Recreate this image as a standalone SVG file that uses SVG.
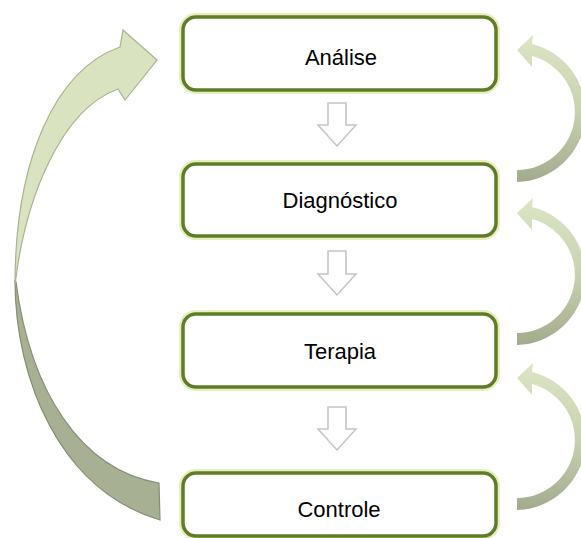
<svg xmlns="http://www.w3.org/2000/svg" width="581" height="538" viewBox="0 0 581 538">
  <defs>
    <linearGradient id="rg" x1="0" y1="0" x2="0" y2="1">
      <stop offset="0" stop-color="#dce6c3"/>
      <stop offset="0.5" stop-color="#c9d2b2"/>
      <stop offset="1" stop-color="#a2ab8c"/>
    </linearGradient>
  </defs>
  <style>
    .glow { fill: none; stroke: #e6efbd; stroke-width: 8; }
    .box { fill: #ffffff; stroke: #5f7d27; stroke-width: 3.5; }
    .lbl { font-family: "Liberation Sans", Arial, sans-serif; font-size: 22px; fill: #000000; text-anchor: middle; }
    .down { fill: #ffffff; stroke: #c4c4c4; stroke-width: 1.5; stroke-linejoin: miter; }
    .light { fill: #d9e3c0; stroke: #aab392; stroke-width: 1.2; }
    .dark { fill: #a7b093; stroke: #858f72; stroke-width: 1.2; }
    .loop { fill: url(#rg); stroke: none; }
  </style>

  <g id="connectors">
    <!-- down arrows between steps -->
    <path class="down" d="M328,103 L346,103 L346,125 L356,125 L337,146 L318,125 L328,125 Z"/>
    <path class="down" d="M328,251 L346,251 L346,274 L356,274 L337,295 L318,274 L328,274 Z"/>
    <path class="down" d="M328,407 L346,407 L346,429 L356,429 L337,450 L318,429 L328,429 Z"/>

    <!-- big left loop arrow: Controle back to Análise -->
    <g id="loop-left">
      <path class="dark" d="M15,280 C15,380 60,490 160,520 L159,483 C80,470 30,390 16,282 Z"/>
      <path class="light" d="M157,60 L123,30 L120,47 C55,70 15,160 15,285 C25,200 60,110 118,89 L125,100 Z"/>
    </g>

    <!-- small right loop arrows -->
    <path class="loop" d="M517,50 L533,35 L532,44 A70,70 0 0 1 517,182 L517,170 A58,58 0 0 0 532,56 L532,67 Z"/>
    <path class="loop" d="M517,213 L533,198 L532,207 A70,70 0 0 1 517,345 L517,333 A58,58 0 0 0 532,219 L532,230 Z"/>
    <path class="loop" d="M517,378 L533,363 L532,372 A70,70 0 0 1 517,510 L517,498 A58,58 0 0 0 532,384 L532,395 Z"/>
  </g>

  <g id="analise">
    <rect class="glow" x="183" y="17" width="313" height="73" rx="13"/>
    <rect class="box" x="183" y="17" width="313" height="73" rx="13"/>
    <text class="lbl" x="341" y="65">Análise</text>
  </g>

  <g id="diagnostico">
    <rect class="glow" x="183" y="164" width="313" height="72" rx="13"/>
    <rect class="box" x="183" y="164" width="313" height="72" rx="13"/>
    <text class="lbl" x="340" y="208">Diagnóstico</text>
  </g>

  <g id="terapia">
    <rect class="glow" x="183" y="314" width="313" height="73" rx="13"/>
    <rect class="box" x="183" y="314" width="313" height="73" rx="13"/>
    <text class="lbl" x="340" y="359">Terapia</text>
  </g>

  <g id="controle">
    <rect class="glow" x="183" y="473" width="313" height="63" rx="13"/>
    <rect class="box" x="183" y="473" width="313" height="63" rx="13"/>
    <text class="lbl" x="339" y="517">Controle</text>
  </g>
</svg>
